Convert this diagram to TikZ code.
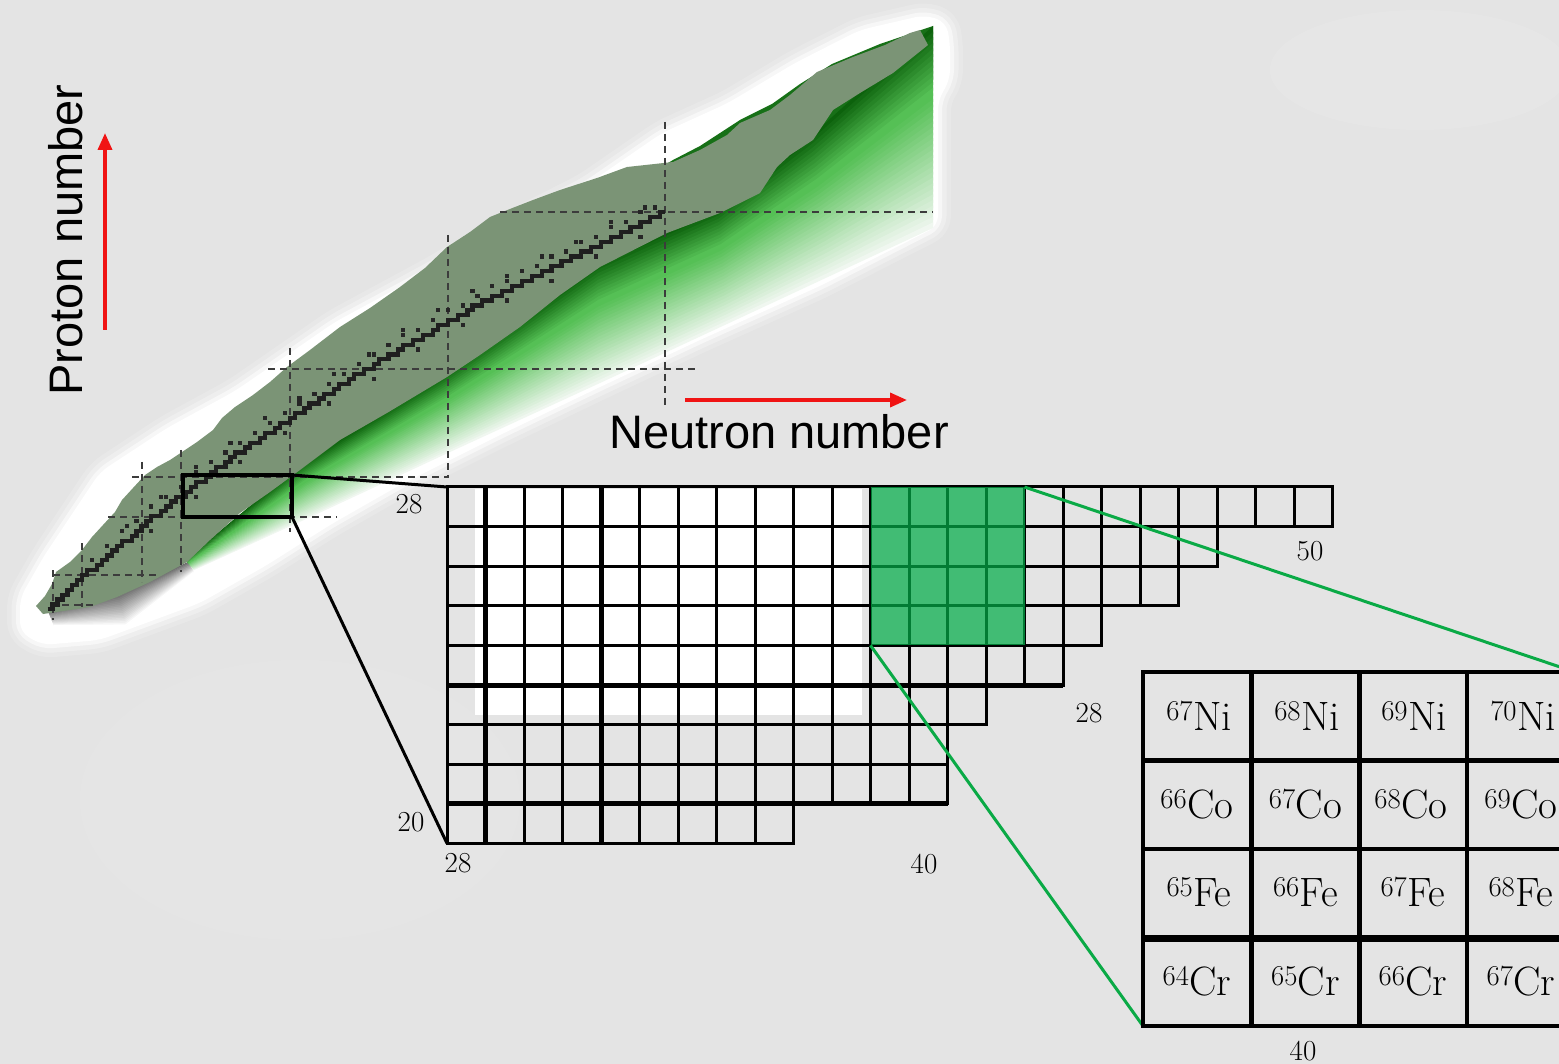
\documentclass[tikz,border=0pt]{standalone}
\usepackage{fontspec}
\newfontfamily\axisfont{Liberation Sans}
\usetikzlibrary{calc,arrows.meta}
\definecolor{bg}{RGB}{228,228,228}
\definecolor{known}{RGB}{123,148,118}
\definecolor{darkg}{RGB}{12,98,12}
\definecolor{midg}{RGB}{85,192,85}
\definecolor{paleg}{RGB}{240,247,240}
\definecolor{blockg}{RGB}{3,173,73}
\definecolor{lineg}{RGB}{10,170,70}
\definecolor{arrowred}{RGB}{240,20,20}
\definecolor{shadowc}{RGB}{105,105,105}
\definecolor{magic}{RGB}{60,60,60}
\newcommand\bandstrip[3]{\fill[#1] ($(P0)!#2!(Q0)$) -- ($(P1)!#2!(Q1)$) -- ($(P2)!#2!(Q2)$) -- ($(P3)!#2!(Q3)$) -- ($(P4)!#2!(Q4)$) -- ($(P5)!#2!(Q5)$) -- ($(P6)!#2!(Q6)$) -- ($(P6)!#3!(Q6)$) -- ($(P5)!#3!(Q5)$) -- ($(P4)!#3!(Q4)$) -- ($(P3)!#3!(Q3)$) -- ($(P2)!#3!(Q2)$) -- ($(P1)!#3!(Q1)$) -- ($(P0)!#3!(Q0)$) -- cycle;}
\newcommand\shadestrip[3]{\fill[#1] ($(R0)!#2!(S0)$) -- ($(R1)!#2!(S1)$) -- ($(R2)!#2!(S2)$) -- ($(R2)!#3!(S2)$) -- ($(R1)!#3!(S1)$) -- ($(R0)!#3!(S0)$) -- cycle;}
\def\halopath{(20,598) -- (44,556) -- (100,472) -- (167,428) -- (235,391) -- (335,322) -- (435,268) -- (502,228) -- (585,186) -- (662,133) -- (728,103) -- (795,63) -- (860,30) -- (925,15) -- (946,22) -- (950,42) -- (950,80) -- (938,100) -- (938,226) -- (820,286) -- (700,340) -- (600,387) -- (500,435) -- (400,485) -- (330,525) -- (267,565) -- (200,603) -- (100,640) -- (42,645) -- (20,632) -- cycle}
\tikzset{
  gridline/.style={line width=3pt, draw=black},
  thickgrid/.style={line width=5pt, draw=black},
  tline/.style={line width=4.2pt, draw=black},
  thicktline/.style={line width=7pt, draw=black},
  conn/.style={line width=3pt, draw=black},
  gconn/.style={line width=3pt, draw=lineg},
  magicline/.style={draw=magic, line width=1.8pt, dash pattern=on 7pt off 5pt},
  redarrow/.style={draw=arrowred, line width=3.5pt, -{Triangle[length=17pt,width=14pt]}},
  numlabel/.style={font=\fontsize{29}{30}\selectfont\addfontfeature{FakeStretch=1.08}, inner sep=0pt},
  iso/.style={font=\fontsize{41}{44}\selectfont\addfontfeature{FakeStretch=1.2}, anchor=base, inner sep=0pt},
  axistitle/.style={font=\axisfont\fontsize{47}{50}\selectfont, anchor=base, inner sep=0pt}
}
\begin{document}
\begin{tikzpicture}[x=1pt,y=-1pt,
  declare function={zs(\n)=round(\n/(1+0.0088*pow(\n,0.85)));}]
\useasboundingbox (0,0) rectangle (1559,1064);
\clip (0,0) rectangle (1559,1064);
\fill[bg] (0,0) rectangle (1559,1064);
\fill[white,opacity=0.10] (1420,70) ellipse (150pt and 60pt);
\fill[white,opacity=0.07] (300,800) ellipse (220pt and 140pt);

% ---------- halo ----------
\foreach \w/\o in {26/0.16,17/0.28,8/0.55}{\draw[white,line width=\w pt,opacity=\o,line join=round,rounded corners=10pt] \halopath;}
\fill[white,rounded corners=10pt] \halopath;

% ---------- shadow at lower left ----------
\coordinate (R0) at (48,611);
\coordinate (R1) at (118,593);
\coordinate (R2) at (188,562);
\coordinate (S0) at (54,626);
\coordinate (S1) at (126,626);
\coordinate (S2) at (194,572);
\foreach \k in {0,...,19}{
  \pgfmathsetmacro\ta{\k/20}
  \pgfmathsetmacro\tb{min(1,(\k+1.5)/20)}
  \pgfmathtruncatemacro\p{100*\k/19}
  \shadestrip{white!\p!shadowc}{\ta}{\tb}
}

% ---------- green gradient region ----------
\coordinate (P0) at (185,560);
\coordinate (P1) at (298,466);
\coordinate (P2) at (445,373);
\coordinate (P3) at (598,263);
\coordinate (P4) at (718,209);
\coordinate (P5) at (811,136);
\coordinate (P6) at (933,26);
\coordinate (Q0) at (194,570);
\coordinate (Q1) at (317,514);
\coordinate (Q2) at (450,452);
\coordinate (Q3) at (600,383);
\coordinate (Q4) at (727,324);
\coordinate (Q5) at (830,276);
\coordinate (Q6) at (933,228);
\fill[darkg!85!midg] (640,180) -- (673,160) -- (700,146) -- (740,120) -- (772,104) -- (800,84) -- (832,64) -- (880,44) -- (933,26) -- (933,80) -- (820,150) -- (700,215) -- cycle;
\foreach \k in {0,...,11}{
  \pgfmathsetmacro\ta{\k/36}
  \pgfmathsetmacro\tb{(\k+1.5)/36}
  \pgfmathtruncatemacro\p{100*\k/11}
  \bandstrip{midg!\p!darkg}{\ta}{\tb}
}
\foreach \k in {12,...,35}{
  \pgfmathsetmacro\ta{\k/36}
  \pgfmathsetmacro\tb{min(1,(\k+1.5)/36)}
  \pgfmathtruncatemacro\p{100*(\k-12)/23}
  \bandstrip{paleg!\p!midg}{\ta}{\tb}
}

% ---------- known nuclei band ----------
\fill[known] (36,606) -- (45,596) -- (52,584) -- (56,572) -- (70,562) -- (82,550) -- (92,537) -- (103,525) -- (115,512) -- (122,500) -- (133,488) -- (145,475) -- (157,467) -- (170,460) -- (182,452) -- (197,442) -- (213,430) -- (222,418) -- (235,407) -- (253,395) -- (270,382) -- (287,367) -- (310,350) -- (340,327) -- (370,308) -- (400,287) -- (425,268) -- (447,247) -- (470,232) -- (490,217) -- (515,207) -- (533,200) -- (560,190) -- (597,178) -- (627,167) -- (673,162) -- (700,150) -- (727,135) -- (740,123) -- (770,110) -- (790,95) -- (817,72) -- (853,57) -- (885,45) -- (910,33) -- (920,30) -- (928,45) -- (893,73) -- (860,93) -- (833,110) -- (813,140) -- (790,155) -- (777,167) -- (760,193) -- (720,213) -- (667,233) -- (600,267) -- (560,295) -- (520,327) -- (480,355) -- (447,377) -- (387,413) -- (340,440) -- (300,470) -- (270,492) -- (240,513) -- (210,540) -- (187,562) -- (150,582) -- (117,597) -- (90,607) -- (43,614) -- cycle;

% ---------- magic number lines ----------
\foreach \xx/\ya/\yb in {53/570/620, 82/543/607, 142/462/582, 181/450/572, 290/348/532, 448/235/478, 665/122/405}
  \draw[magicline] (\xx,\ya) -- (\xx,\yb);
\foreach \yy/\xa/\xb in {605/50/93, 575/53/160, 517/108/337, 477/132/448, 369/268/697, 212/500/933}
  \draw[magicline] (\xa,\yy) -- (\xb,\yy);

% ---------- valley of stability ----------
\draw[black!88,line width=4.2pt] plot[const plot, samples at={1,...,126}] ({42.7+4.94*\x},{614.2-4.9*zs(\x)});
\foreach \n in {10,13,...,124}
  \fill[black!85] ({40.6+4.94*\n},{612.1-4.9*(zs(\n)+2)}) rectangle ++(4.2,4.2);
\foreach \n in {17,24,...,124}
  \fill[black!85] ({40.6+4.94*\n},{612.1-4.9*(zs(\n)+3)}) rectangle ++(4.2,4.2);
\foreach \n in {21,30,...,120}
  \fill[black!85] ({40.6+4.94*(\n+1)},{612.1-4.9*(zs(\n)-2)}) rectangle ++(4.2,4.2);

% ---------- zoom box and connectors ----------
\node[draw, line width=4.5pt, minimum width=109pt, minimum height=42pt, inner sep=0pt, outer sep=0pt, anchor=north west] (zoombox) at (183,475) {};
\coordinate (gridTL) at (447,487);
\coordinate (gridBL) at (447,843.4);
\draw[conn] (zoombox.north east) -- (gridTL);
\draw[conn] (zoombox.south east) -- (gridBL);

% ---------- magnified grid ----------
\fill[white] (475,489) rectangle (862,715);
\foreach \r/\n in {0/23,1/20,2/19,3/17,4/16,5/14,6/13,7/13,8/9}{
  \foreach \c in {1,...,\n}{
    \draw[gridline] ({447+38.5*(\c-1)},{487+39.6*\r}) rectangle ++(38.5,39.6);
  }
}
\draw[thickgrid] (485.5,487) -- (485.5,843.4);
\draw[thickgrid] (601,487) -- (601,843.4);
\draw[thickgrid] (447,685) -- (1063,685);
\draw[thickgrid] (447,803.8) -- (947.5,803.8);
\fill[blockg,opacity=0.72] (870.5,487) rectangle (1024.5,645.4);
\coordinate (blockTR) at (1024.5,487);
\coordinate (blockBL) at (870.5,645.4);

% ---------- table ----------
\coordinate (tabTL) at (1143,672);
\coordinate (tabTR) at (1575,672);
\coordinate (tabBL) at (1143,1026);
\draw[gconn] (blockTR) -- (tabTR);
\draw[gconn] (blockBL) -- (tabBL);
\draw[tline] (tabTL) rectangle (1575,1026);
\draw[tline] (1143,760.5) -- (1575,760.5);
\draw[tline] (1143,849) -- (1575,849);
\draw[thicktline] (1143,938) -- (1575,938);
\foreach \xx in {1251.5,1359.5,1467}
  \draw[tline] (\xx,672) -- (\xx,1026);

\node[iso] (ni67) at (1199,730) {\textsuperscript{67}Ni};
\node[iso] (ni68) at (1307,730) {\textsuperscript{68}Ni};
\node[iso] (ni69) at (1414,730) {\textsuperscript{69}Ni};
\node[iso] (ni70) at (1523,730) {\textsuperscript{70}Ni};
\node[iso] (co66) at (1197,818) {\textsuperscript{66}Co};
\node[iso] (co67) at (1305.5,818) {\textsuperscript{67}Co};
\node[iso] (co68) at (1411,818) {\textsuperscript{68}Co};
\node[iso] (co69) at (1521,818) {\textsuperscript{69}Co};
\node[iso] (fe65) at (1199,906) {\textsuperscript{65}Fe};
\node[iso] (fe66) at (1305.5,906) {\textsuperscript{66}Fe};
\node[iso] (fe67) at (1413,906) {\textsuperscript{67}Fe};
\node[iso] (fe68) at (1521,906) {\textsuperscript{68}Fe};
\node[iso] (cr64) at (1197,995) {\textsuperscript{64}Cr};
\node[iso] (cr65) at (1305.5,995) {\textsuperscript{65}Cr};
\node[iso] (cr66) at (1413,995) {\textsuperscript{66}Cr};
\node[iso] (cr67) at (1521,995) {\textsuperscript{67}Cr};

% ---------- number labels ----------
\node[numlabel] (lz28) at (409,504) {28};
\node[numlabel] (lz20) at (411,822) {20};
\node[numlabel] (ln28) at (458,863) {28};
\node[numlabel] (ln40) at (924,864) {40};
\node[numlabel] (ln50) at (1310,551) {50};
\node[numlabel] (tz28) at (1089,713) {28};
\node[numlabel] (tn40) at (1303,1051) {40};

% ---------- axes ----------
\coordinate (pa0) at (105,330);
\coordinate (pa1) at (105,133);
\coordinate (na0) at (685,400);
\coordinate (na1) at (907,400);
\draw[redarrow] (pa0) -- (pa1);
\draw[redarrow] (na0) -- (na1);
\node[axistitle, rotate=90] (ptitle) at (82,240) {Proton number};
\node[axistitle] (ntitle) at (779,449) {Neutron number};
\end{tikzpicture}
\end{document}
